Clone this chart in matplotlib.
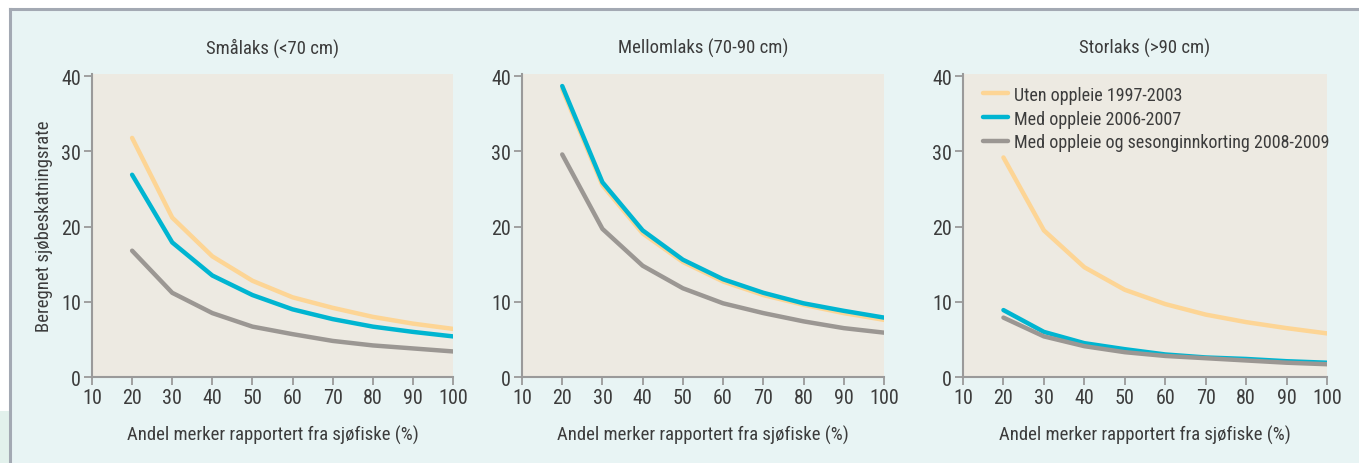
import matplotlib
matplotlib.use("Agg")
import matplotlib.pyplot as plt
from matplotlib.lines import Line2D
from matplotlib.patches import Rectangle

x = [20, 30, 40, 50, 60, 70, 80, 90, 100]

titles = ["Smålaks (<70 cm)", "Mellomlaks (70-90 cm)", "Storlaks (>90 cm)"]
series_names = ["Uten oppleie 1997-2003", "Med oppleie 2006-2007",
                "Med oppleie og sesonginnkorting 2008-2009"]

small_uten = [31.8, 21.2, 16.05, 12.8, 10.6, 9.2, 8.0, 7.1, 6.4]
small_med = [26.9, 17.9, 13.5, 10.9, 9.0, 7.7, 6.7, 6.0, 5.4]
small_sesong = [16.8, 11.2, 8.5, 6.7, 5.7, 4.8, 4.2, 3.8, 3.4]

medium_uten = [38.3, 25.5, 19.1, 15.3, 12.7, 10.9, 9.6, 8.5, 7.6]
medium_med = [38.7, 25.9, 19.5, 15.6, 13.0, 11.2, 9.8, 8.8, 7.9]
medium_sesong = [29.6, 19.7, 14.8, 11.8, 9.8, 8.5, 7.4, 6.5, 5.9]

large_uten = [29.2, 19.5, 14.6, 11.6, 9.7, 8.3, 7.3, 6.5, 5.8]
large_med = [8.9, 6.0, 4.5, 3.7, 3.0, 2.6, 2.4, 2.1, 1.9]
large_sesong = [7.9, 5.4, 4.1, 3.3, 2.8, 2.5, 2.2, 1.9, 1.7]

xticks = [10, 20, 30, 40, 50, 60, 70, 80, 90, 100]
yticks = [0, 10, 20, 30, 40]

panels = [
    (small_uten, small_med, small_sesong),
    (medium_uten, medium_med, medium_sesong),
    (large_uten, large_med, large_sesong),
]

colors = ["#FDD595", "#00B5D1", "#9B9793"]
outer_bg = "#E8F4F4"
plot_bg = "#EDEAE2"
text_col = "#3C3C3C"
spine_col = "#9A9A9A"

plt.rcParams['font.family'] = ['Roboto Condensed', 'Liberation Sans Narrow', 'Lato', 'DejaVu Sans']

W, H = 1359, 464
fig = plt.figure(figsize=(W / 100, H / 100), dpi=100)
fig.patch.set_facecolor("white")

# outer panel background with frame on top and left
fig.add_artist(Rectangle((10 / W, 0), 1 - 10 / W, 1 - 10 / H, transform=fig.transFigure,
                         facecolor=outer_bg, edgecolor="none", zorder=0))
fig.add_artist(Rectangle((0, 0), 10 / W, 1 - 412 / H, transform=fig.transFigure,
                         facecolor="#E2F1EC", edgecolor="none", zorder=0))
fig.add_artist(Line2D([10 / W, 10 / W], [0, 1 - 10 / H], transform=fig.transFigure,
                      color="#A3A9B3", lw=2.2, zorder=1))
fig.add_artist(Line2D([10 / W, 1], [1 - 10 / H, 1 - 10 / H], transform=fig.transFigure,
                      color="#A3A9B3", lw=2.2, zorder=1))

lefts = [92, 522, 963]
rights = [453, 884, 1327]
top_px, bot_px = 75, 378

for i, (ys, title) in enumerate(zip(panels, titles)):
    l, r = lefts[i], rights[i]
    ax = fig.add_axes([l / W, 1 - bot_px / H, (r - l) / W, (bot_px - top_px) / H])
    ax.set_facecolor(plot_bg)
    for s, c, name in zip(ys, colors, series_names):
        ax.plot(x, s, color=c, lw=3.2, solid_capstyle="round", label=name)
    ax.set_xlim(10, 100)
    ax.set_ylim(0, 40.3)
    ax.set_xticks(xticks)
    ax.set_yticks(yticks)
    for sp in ["top", "right"]:
        ax.spines[sp].set_visible(False)
    for sp in ["left", "bottom"]:
        ax.spines[sp].set_color(spine_col)
        ax.spines[sp].set_linewidth(1.5)
    ax.tick_params(axis="both", colors=spine_col, labelcolor=text_col,
                   labelsize=14.5, length=6, width=1.3)
    ax.tick_params(axis="x", pad=2)
    ax.tick_params(axis="y", pad=2)
    ax.set_title(title, fontsize=13.5, color=text_col, pad=15)
    ax.set_xlabel("Andel merker rapportert fra sjøfiske (%)", fontsize=13.5,
                  color=text_col, labelpad=13)
    if i == 0:
        ax.set_ylabel("Beregnet sjøbeskatningsrate", fontsize=13.5, color=text_col,
                      labelpad=6)
    if i == 2:
        leg = ax.legend(loc="upper left", frameon=False, fontsize=13,
                        handlelength=1.4, handletextpad=0.3, labelspacing=0.32,
                        borderaxespad=0.0, bbox_to_anchor=(0.035, 0.985))
        for t in leg.get_texts():
            t.set_color(text_col)

fig.savefig("out.png", dpi=100, facecolor=fig.get_facecolor())
